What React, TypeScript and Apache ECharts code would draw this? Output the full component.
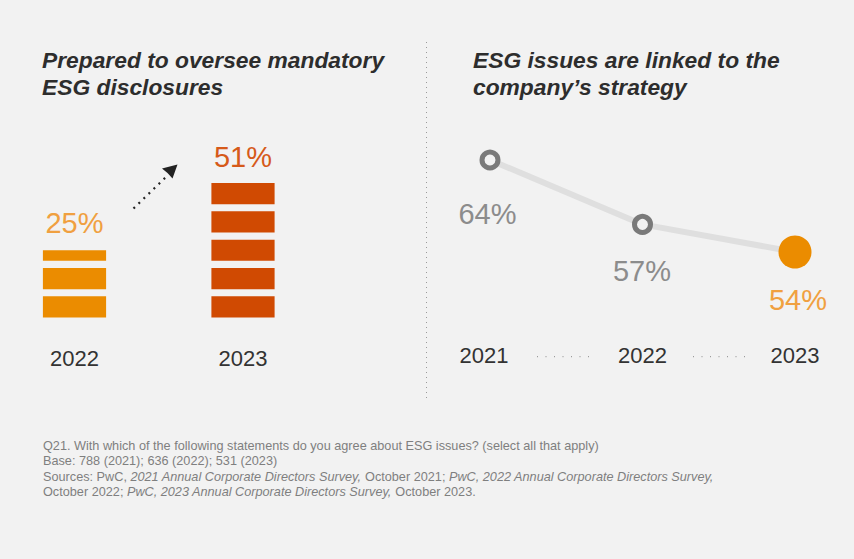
import React, { useEffect, useRef } from "react";
import * as echarts from "echarts";

// ---- data ----
const barCategories = ["2022", "2023"];
const barValues = [25, 51];
const lineCategories = ["2021", "2022", "2023"];
const lineValues = [64, 57, 54];
const titleLeft = "Prepared to oversee mandatory\nESG disclosures";
const titleRight = "ESG issues are linked to the\ncompany’s strategy";
const footnoteLines = [
  "Q21. With which of the following statements do you agree about ESG issues? (select all that apply)",
  "Base: 788 (2021); 636 (2022); 531 (2023)",
  "Sources: PwC, {i|2021 Annual Corporate Directors Survey,} October 2021; {i|PwC, 2022 Annual Corporate Directors Survey,}",
  "October 2022; {i|PwC, 2023 Annual Corporate Directors Survey,} October 2023.",
];

// ---- styles ----
const BG = "#f2f2f2";
const barColors = ["#eb8c00", "#d04a02"];
const barLabelColors = ["#f0a040", "#d65a1a"];
const barLabelDistance = [13, 5.5];
const lineLabelColors = ["#8c8c8c", "#8c8c8c", "#f0a040"];
const lineLabelOffsets = [
  [-2.5, 54],
  [-0.5, 47],
  [3, 48],
];
const FONT = "'Liberation Sans', Arial, Helvetica, sans-serif";

export default function App() {
  const ref = useRef<HTMLDivElement>(null);

  useEffect(() => {
    if (!ref.current) return;
    const chart = echarts.init(ref.current, undefined, { renderer: "svg" });

    const titleStyle = {
      fontFamily: FONT,
      fontSize: 22.8,
      fontWeight: "bold",
      fontStyle: "italic",
      color: "#2d2d2d",
      lineHeight: 27,
    };

    const option: any = {
      animation: false,
      backgroundColor: BG,
      textStyle: { fontFamily: FONT },
      title: [
        { text: titleLeft, left: 42, top: 46, padding: 0, textStyle: titleStyle },
        { text: titleRight, left: 473, top: 46, padding: 0, textStyle: titleStyle },
      ],
      grid: [
        { left: 74.5, width: 168.5, top: 38, height: 283 },
        { left: 490, width: 305, top: 104.8, height: 184 },
      ],
      xAxis: [
        {
          type: "category",
          gridIndex: 0,
          data: barCategories,
          boundaryGap: false,
          axisLine: { show: false },
          axisTick: { show: false },
          splitLine: { show: false },
          axisLabel: {
            margin: 26,
            fontSize: 22,
            color: "#333333",
            fontFamily: FONT,
          },
        },
        {
          type: "category",
          gridIndex: 1,
          data: lineCategories,
          boundaryGap: false,
          axisLine: { show: false },
          axisTick: { show: false },
          splitLine: { show: false },
          axisLabel: {
            margin: 56,
            fontSize: 22,
            color: "#333333",
            fontFamily: FONT,
            formatter: (v: string, i: number) => (i === 0 ? `{s|${v}}` : v),
            rich: {
              s: {
                fontSize: 22,
                color: "#333333",
                fontFamily: FONT,
                padding: [0, 12, 0, 0],
              },
            },
          },
        },
      ],
      yAxis: [
        { type: "value", gridIndex: 0, min: 0, max: 100, show: false, splitLine: { show: false } },
        { type: "value", gridIndex: 1, min: 50, max: 70, show: false, splitLine: { show: false } },
      ],
      series: [
        {
          type: "pictorialBar",
          xAxisIndex: 0,
          yAxisIndex: 0,
          symbol: "rect",
          symbolSize: [63, 21],
          symbolRepeat: 10,
          symbolMargin: "10%!",
          symbolClip: true,
          symbolBoundingData: 100,
          z: 2,
          data: barValues.map((v, i) => ({
            value: v,
            itemStyle: { color: barColors[i] },
          })),
        },
        {
          // transparent bar carrying the value labels
          type: "bar",
          xAxisIndex: 0,
          yAxisIndex: 0,
          barWidth: 63,
          z: 1,
          itemStyle: { color: "rgba(0,0,0,0)" },
          data: barValues.map((v, i) => ({
            value: v,
            label: {
              show: true,
              position: "top",
              distance: barLabelDistance[i],
              formatter: "{c}%",
              fontSize: 29,
              fontFamily: FONT,
              color: barLabelColors[i],
            },
          })),
        },
        {
          type: "line",
          xAxisIndex: 1,
          yAxisIndex: 1,
          symbol: "circle",
          symbolSize: 16,
          lineStyle: { color: "#dfdfdf", width: 6 },
          itemStyle: { color: BG, borderColor: "#7a7a7a", borderWidth: 5 },
          data: lineValues.map((v, i) => {
            const last = i === lineValues.length - 1;
            return {
              value: v,
              symbolSize: last ? 33 : 16,
              itemStyle: last
                ? { color: "#eb8c00", borderWidth: 0 }
                : { color: BG, borderColor: "#7a7a7a", borderWidth: 5 },
              label: {
                show: true,
                position: "inside",
                offset: lineLabelOffsets[i],
                formatter: "{c}%",
                fontSize: 29,
                fontFamily: FONT,
                color: lineLabelColors[i],
              },
            };
          }),
        },
      ],
      graphic: [
        {
          type: "line",
          shape: { x1: 426.5, y1: 42, x2: 426.5, y2: 398 },
          style: { stroke: "#9a9a9a", lineWidth: 1, lineDash: [1, 4] },
        },
        {
          type: "line",
          shape: { x1: 133.5, y1: 208.5, x2: 167, y2: 176 },
          style: { stroke: "#222", lineWidth: 2.2, lineDash: [2, 5] },
        },
        {
          type: "polygon",
          shape: {
            points: [
              [177.5, 164.5],
              [162, 168.5],
              [167.5, 173],
              [172.5, 178.5],
            ],
          },
          style: { fill: "#222" },
        },
        {
          type: "line",
          shape: { x1: 537, y1: 356.7, x2: 589, y2: 356.7 },
          style: { stroke: "#888", lineWidth: 1, lineDash: [1, 7.5] },
        },
        {
          type: "line",
          shape: { x1: 693, y1: 356.7, x2: 745, y2: 356.7 },
          style: { stroke: "#888", lineWidth: 1, lineDash: [1, 7.5] },
        },
        {
          type: "text",
          left: 43,
          top: 438,
          style: {
            text: footnoteLines.join("\n"),
            fontFamily: FONT,
            fontSize: 12.7,
            lineHeight: 15.5,
            fill: "#7f7f7f",
            rich: {
              i: {
                fontFamily: FONT,
                fontSize: 12.7,
                fontStyle: "italic",
                lineHeight: 15.5,
                fill: "#7f7f7f",
              },
            },
          },
        },
      ],
    };

    chart.setOption(option);
    return () => chart.dispose();
  }, []);

  return (
    <div
      ref={ref}
      style={{ position: "absolute", left: 0, top: 0, width: 854, height: 559 }}
    />
  );
}
